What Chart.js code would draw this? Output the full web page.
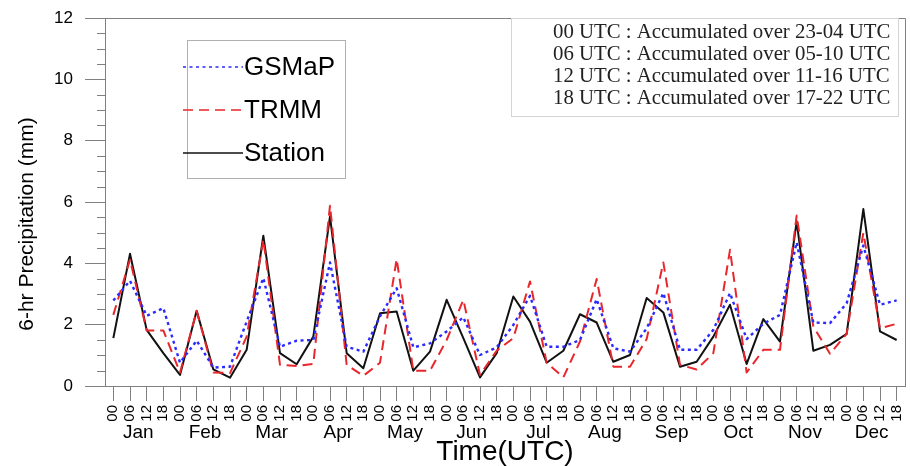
<!DOCTYPE html>
<html>
<head>
<meta charset="utf-8">
<script src="https://cdn.jsdelivr.net/npm/chart.js@4/dist/chart.umd.min.js"></script>
<style>
  html, body { margin: 0; padding: 0; background: #fff; }
  canvas { display: block; }
</style>
</head>
<body>
<canvas id="c" width="910" height="466"></canvas>
<script>
// ---- data ----
const months = ['Jan','Feb','Mar','Apr','May','Jun','Jul','Aug','Sep','Oct','Nov','Dec'];
const hours = ['00','06','12','18'];
const hourLabels = [];
months.forEach(() => hours.forEach(h => hourLabels.push(h)));

const gsmap = [2.79,3.43,2.29,2.54, 0.76,1.48,0.60,0.63, 2.10,3.52,1.28,1.48,
               1.50,4.03,1.28,1.12, 2.27,3.19,1.26,1.39, 1.78,2.24,1.01,1.26,
               1.99,2.94,1.28,1.28, 1.50,2.83,1.23,1.12, 1.88,3.03,1.18,1.18,
               1.83,3.03,1.53,2.03, 2.32,4.68,2.07,2.05, 2.70,4.58,2.65,2.79];
const trmm  = [2.32,4.12,1.81,1.81, 0.44,2.45,0.44,0.42, 1.61,4.77,0.69,0.65,
               0.72,5.88,0.69,0.33, 0.76,4.14,0.50,0.50, 1.50,2.81,0.36,1.15,
               1.56,3.41,0.76,0.28, 1.45,3.49,0.63,0.63, 1.53,4.03,0.69,0.54,
               1.07,4.44,0.44,1.18, 1.18,5.56,1.94,1.05, 1.70,4.99,1.88,2.03];
const station=[1.56,4.31,1.83,1.07, 0.36,2.45,0.54,0.27, 1.18,4.90,1.07,0.71,
               1.61,5.53,1.07,0.58, 2.37,2.43,0.50,1.12, 2.81,1.56,0.28,1.07,
               2.92,2.10,0.76,1.15, 2.34,2.07,0.79,1.01, 2.87,2.40,0.63,0.79,
               1.61,2.65,0.72,2.18, 1.45,5.37,1.15,1.34, 1.70,5.77,1.78,1.50];
const yTicks = [0,2,4,6,8,10,12];
const yTitle = '6-hr Precipitation (mm)';
const noteLines = [
  '00 UTC : Accumulated over 23-04 UTC',
  '06 UTC : Accumulated over 05-10 UTC',
  '12 UTC : Accumulated over 11-16 UTC',
  '18 UTC : Accumulated over 17-22 UTC'
];

Chart.defaults.font.family = "'Liberation Sans', Arial, Helvetica, sans-serif";
Chart.defaults.color = '#000';

const AXIS = '#808080';

const extras = {
  id: 'extras',
  afterDraw(chart) {
    const ctx = chart.ctx;
    const a = chart.chartArea;
    const y = chart.scales.y;
    ctx.save();
    // frame top & right
    ctx.strokeStyle = AXIS;
    ctx.lineWidth = 1;
    ctx.beginPath();
    ctx.moveTo(a.left, a.top + 0.5);
    ctx.lineTo(a.right + 0.5, a.top + 0.5);
    ctx.lineTo(a.right + 0.5, a.bottom);
    ctx.stroke();
    // minor y ticks
    ctx.beginPath();
    for (let v = 0.5; v < 12; v += 0.5) {
      if (v % 2 === 0) continue;
      const py = Math.round(y.getPixelForValue(v)) + 0.5;
      ctx.moveTo(a.left - 8, py);
      ctx.lineTo(a.left, py);
    }
    ctx.stroke();

    // y axis title
    ctx.save();
    ctx.translate(27, 224);
    ctx.rotate(-Math.PI / 2);
    ctx.fillStyle = '#000';
    ctx.font = "21px 'Liberation Sans', Arial, sans-serif";
    ctx.textAlign = 'center';
    ctx.textBaseline = 'middle';
    ctx.fillText(yTitle, 0, 0);
    ctx.restore();

    // note box
    ctx.strokeStyle = '#d4d4d4';
    ctx.strokeRect(511.5, a.top + 0.5, 387, 98);
    ctx.fillStyle = '#222';
    ctx.font = "20.8px 'Liberation Serif', 'Times New Roman', serif";
    ctx.textAlign = 'left';
    ctx.textBaseline = 'middle';
    noteLines.forEach((t, i) => ctx.fillText(t, 553, 33 + i * 22));

    // legend
    ctx.strokeStyle = '#b0b0b0';
    ctx.lineWidth = 1;
    ctx.strokeRect(187.5, 40.5, 158, 138);
    const ys = [67, 110, 153];
    chart.data.datasets.forEach((ds, i) => {
      ctx.beginPath();
      ctx.strokeStyle = ds.borderColor;
      ctx.lineWidth = 1.6;
      ctx.setLineDash(ds.borderDash || []);
      ctx.moveTo(183, ys[i]);
      ctx.lineTo(243, ys[i]);
      ctx.stroke();
      ctx.setLineDash([]);
      ctx.fillStyle = '#000';
      ctx.font = "26px 'Liberation Sans', Arial, sans-serif";
      ctx.textAlign = 'left';
      ctx.textBaseline = 'middle';
      ctx.fillText(ds.label, 244, ys[i] + 1);
    });
    ctx.restore();
  }
};

new Chart(document.getElementById('c'), {
  type: 'line',
  data: {
    labels: hourLabels,
    datasets: [
      { label: 'GSMaP', data: gsmap, borderColor: '#2a2aff', borderWidth: 2.4, borderDash: [3, 3.5],
        borderJoinStyle: 'round', pointRadius: 0, fill: false, tension: 0, xAxisID: 'x' },
      { label: 'TRMM', data: trmm, borderColor: '#e8262b', borderWidth: 2, borderDash: [10, 6],
        borderJoinStyle: 'round', pointRadius: 0, fill: false, tension: 0, xAxisID: 'x' },
      { label: 'Station', data: station, borderColor: '#111', borderWidth: 2,
        borderJoinStyle: 'round', pointRadius: 0, fill: false, tension: 0, xAxisID: 'x' }
    ]
  },
  options: {
    responsive: false,
    animation: false,
    devicePixelRatio: 1,
    layout: { padding: { top: 18, right: 5, bottom: 0, left: 0 } },
    plugins: { legend: { display: false }, tooltip: { enabled: false } },
    scales: {
      x: {
        type: 'category',
        position: 'bottom',
        weight: 0,
        offset: true,
        grid: { display: true, drawOnChartArea: false, drawTicks: true, tickLength: 15,
                color: AXIS, offset: false },
        border: { display: true, color: AXIS },
        ticks: { autoSkip: false, minRotation: 90, maxRotation: 90, padding: 4,
                 font: { size: 15 }, color: '#000' },
        afterFit: s => { s.height = 35; s.paddingLeft = 0; s.paddingRight = 0; }
      },
      xm: {
        type: 'category',
        position: 'bottom',
        weight: 1,
        labels: months,
        offset: true,
        grid: { display: false, drawTicks: false },
        border: { display: false },
        ticks: { autoSkip: false, maxRotation: 0, minRotation: 0, padding: 0,
                 font: { size: 19 }, color: '#000' },
        title: { display: true, text: 'Time(UTC)', font: { size: 28, lineHeight: 1.0 },
                 color: '#000', padding: 0 },
        afterFit: s => { s.height = 45; s.paddingLeft = 0; s.paddingRight = 0; }
      },
      y: {
        min: 0, max: 12,
        afterBuildTicks: s => { s.ticks = yTicks.map(v => ({ value: v })); },
        grid: { drawOnChartArea: false, drawTicks: true, tickLength: 20, color: AXIS },
        border: { display: true, color: AXIS },
        ticks: { padding: 12, font: { size: 17 }, color: '#000' },
        afterFit: s => { s.width = 105; s.paddingTop = 0; s.paddingBottom = 0; }
      }
    }
  },
  plugins: [extras]
});
</script>
</body>
</html>
